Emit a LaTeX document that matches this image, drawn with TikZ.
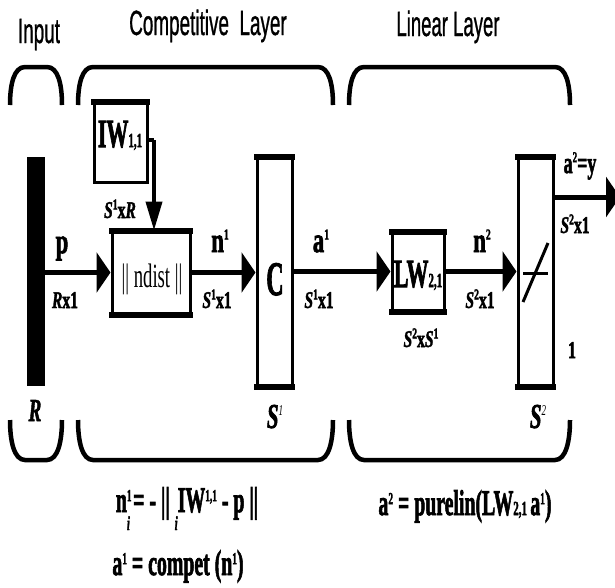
\documentclass[tikz,border=0pt]{standalone}
\usepackage{fontspec}
\setmainfont{Liberation Serif}[BoldFeatures={FakeBold=2.5},BoldItalicFeatures={FakeBold=2}]
\newfontfamily\titlefont{Liberation Sans}[FakeBold=1.2]
\usetikzlibrary{arrows.meta}
\newcommand\sx[2]{\scalebox{#1}[1]{#2}}
\newcommand\fs[1]{\fontsize{#1}{#1}\selectfont}
\newcommand\upr[1]{\raisebox{0.36em}{\fs{15}#1}}
\newcommand\eup[1]{\raisebox{0.3em}{\fs{17}#1}}
\newcommand\smal[1]{{\fs{20}#1}}
\tikzset{
  lbl/.style={inner sep=0pt, anchor=base, font=\bfseries\fs{35}},
  dim/.style={inner sep=0pt, anchor=base, font=\bfseries\fs{24}},
  big/.style={inner sep=0pt, anchor=base, font=\bfseries\fs{40}},
  eq/.style={inner sep=0pt, anchor=base, font=\bfseries\fs{36}},
  ttl/.style={inner sep=0pt, anchor=base, font=\titlefont\fs{35}},
  sz/.style={inner sep=0pt, anchor=base, font=\itshape\fs{35}},
  blk/.style={draw, line width=3pt, inner sep=0pt},
  thk/.style={line width=6pt},
  conn/.style={line width=5pt, -{Triangle[length=14pt,width=40pt]}},
  vconn/.style={line width=4pt, -{Triangle[length=29pt,width=16pt]}},
  brc/.style={line width=4.5pt},
}
\begin{document}
\begin{tikzpicture}[x=1pt,y=-1pt]
\useasboundingbox (0,0) rectangle (615,587);
\clip (0,0) rectangle (615,587);
% titles
\node[ttl] (tin) at (39,43) {\sx{0.54}{Input}};
\node[ttl] (tcomp) at (208,35) {\sx{0.54}{Competitive\ \ Layer}};
\node[ttl] (tlin) at (448,36) {\sx{0.53}{Linear Layer}};
% braces top
\draw[brc] (10,105) .. controls (10,84) and (14,67) .. (25,67) -- (47,67) .. controls (58,67) and (62,84) .. (62,105);
\draw[brc] (78,105) .. controls (78,84) and (82,67) .. (93,67) -- (318,67) .. controls (329,67) and (333,84) .. (333,105);
\draw[brc] (349,105) .. controls (349,84) and (353,67) .. (364,67) -- (555,67) .. controls (566,67) and (570,84) .. (570,105);
% braces bottom
\draw[brc] (10,420) .. controls (10,441) and (14,460) .. (25,460) -- (47,460) .. controls (58,460) and (62,441) .. (62,420);
\draw[brc] (78,420) .. controls (78,441) and (82,460) .. (93,460) -- (318,460) .. controls (329,460) and (333,441) .. (333,420);
\draw[brc] (349,420) .. controls (349,441) and (353,460) .. (364,460) -- (555,460) .. controls (566,460) and (570,441) .. (570,420);
% input bar
\node[fill=black, inner sep=0pt, minimum width=18pt, minimum height=229pt] (bar) at (36,271.5) {};
\node[sz, font=\itshape\fs{32}] (rl) at (35,421) {\sx{0.6}{\textbf{R}}};
% boxes
\node[blk, minimum width=53pt, minimum height=79pt] (iw) at (120.5,142.5) {};
\node[blk, minimum width=78pt, minimum height=81pt] (nd) at (151,272.5) {};
\node[blk, minimum width=35pt, minimum height=227pt] (c) at (274.5,271.5) {};
\node[blk, minimum width=52pt, minimum height=77pt] (lw) at (418,271.5) {};
\node[blk, minimum width=35pt, minimum height=227pt] (tf) at (535.5,271.5) {};
\foreach \b in {iw,nd,c,lw,tf}{
  \draw[thk] ([xshift=-1.5pt]\b.north west) -- ([xshift=1.5pt]\b.north east);
}
\foreach \b in {nd,c,lw,tf}{
  \draw[thk] ([xshift=-1.5pt]\b.south west) -- ([xshift=1.5pt]\b.south east);
}
% box texts
\node[big] (iwl) at (120,147) {\sx{0.55}{IW\smal{1,1}}};
\node[inner sep=0pt, anchor=base, font=\fs{34}] (ndl) at (152,287) {\sx{0.55}{|| ndist ||}};
\node[big, font=\bfseries\fs{48}] (cl) at (275,295) {\sx{0.5}{C}};
\node[big] (lwl) at (418,287) {\sx{0.55}{LW\smal{2,1}}};
% transfer symbol
\draw[line width=3pt] (523,273) -- (548,273);
\draw[line width=3pt] (523,302) -- (548,243);
% connectors
\coordinate (iwk) at (154,140);
\draw[line width=4pt] (iw.east |- iwk) -- (iwk);
\draw[vconn] (iwk) -- (iwk |- nd.north);
\draw[conn] (bar.east |- nd.west) -- (nd.west);
\draw[conn] (nd.east) -- (nd.east -| c.west);
\draw[conn] (c.east |- lw.west) -- (lw.west);
\draw[conn] (lw.east) -- (lw.east -| tf.west);
\coordinate (out) at (620,197);
\draw[conn] (tf.east |- out) -- (out);
% labels
\node[lbl] (pl) at (62,253) {\sx{0.65}{p}};
\node[dim] (pd) at (65,308) {\sx{0.65}{\textit{R}x1}};
\node[dim] (iwd) at (120,218) {\sx{0.65}{\textit{S}\upr{1}x\textit{R}}};
\node[lbl] (n1l) at (220,252) {\sx{0.65}{n\upr{1}}};
\node[dim] (n1d) at (217,308) {\sx{0.65}{\textit{S}\upr{1}x1}};
\node[lbl] (a1l) at (321,252) {\sx{0.65}{a\upr{1}}};
\node[dim] (a1d) at (319,308) {\sx{0.65}{\textit{S}\upr{1}x1}};
\node[dim] (lwd) at (421,347) {\sx{0.65}{\textit{S}\upr{2}x\textit{S}\upr{1}}};
\node[lbl] (n2l) at (482,252) {\sx{0.65}{n\upr{2}}};
\node[dim] (n2d) at (480,308) {\sx{0.65}{\textit{S}\upr{2}x1}};
\node[lbl, font=\bfseries\fs{30}] (a2l) at (580,173) {\sx{0.6}{a\upr{2}=y}};
\node[dim] (a2d) at (575,233) {\sx{0.65}{\textit{S}\upr{2}x1}};
\node[dim] (one) at (572,358) {\sx{0.65}{1}};
\node[sz] (s1) at (275,428) {\sx{0.6}{\textbf{S}\upr{1}}};
\node[sz] (s2) at (538,428) {\sx{0.6}{\textbf{S}\upr{2}}};
% equations
\node[eq] (eq1) at (187,512) {\sx{0.55}{n\rlap{\eup{1}}\raisebox{-0.5em}{\smal{\textit{i}}}\,= - || \raisebox{-0.5em}{\smal{\textit{i}}}IW\eup{1,1} - p ||}};
\node[eq] (eq2) at (178,575) {\sx{0.55}{a\eup{1} = compet (n\eup{1})}};
\node[eq] (eq3) at (465,515) {\sx{0.55}{a\eup{2} = purelin(LW\smal{2,1}\,a\eup{1})}};
\end{tikzpicture}
\end{document}
